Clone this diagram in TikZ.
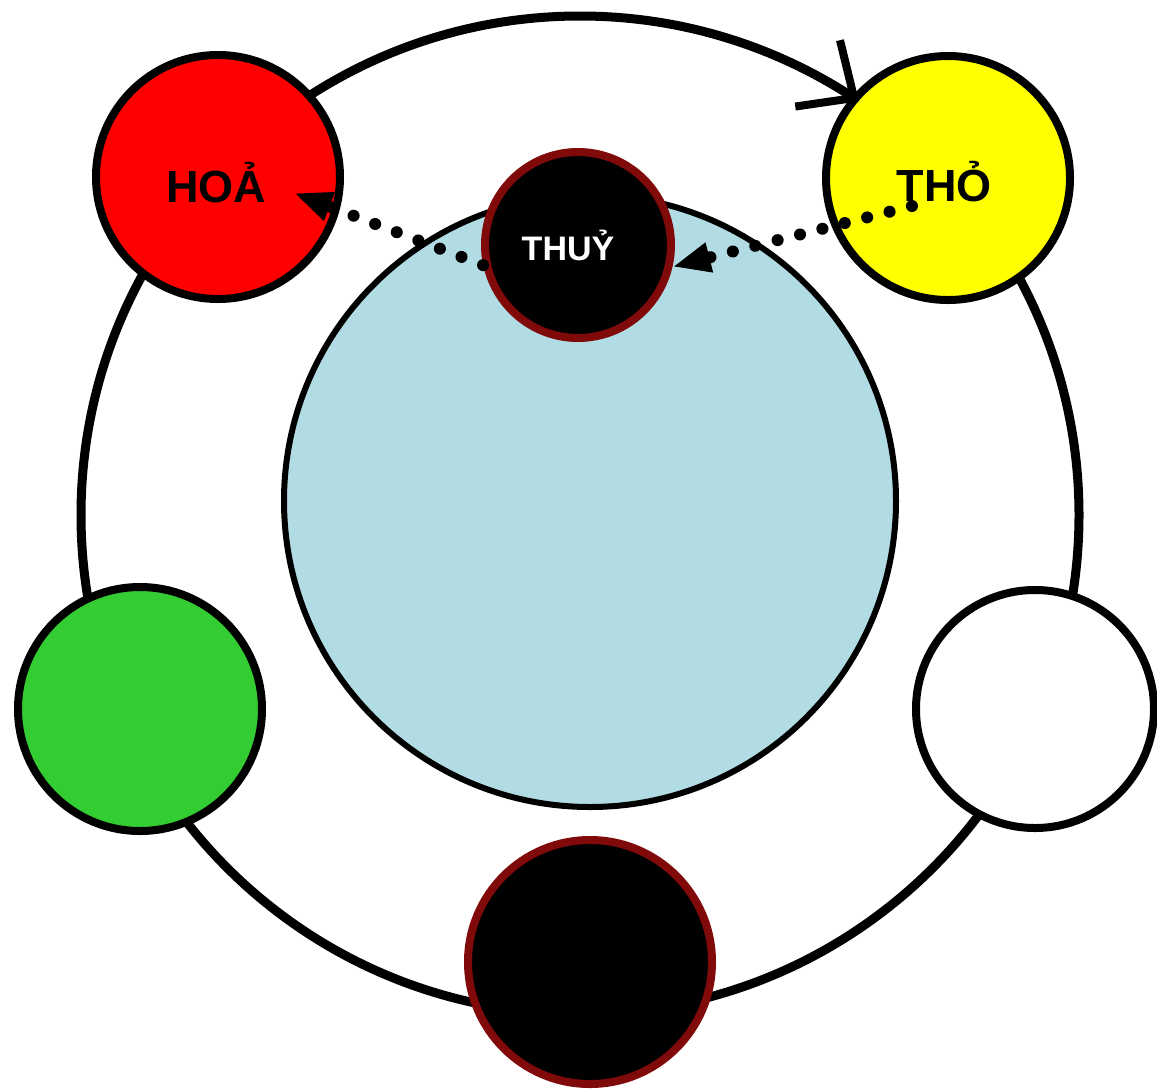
\documentclass[tikz,border=0pt]{standalone}
\usepackage{fontspec}
\setmainfont{Liberation Sans}
\usetikzlibrary{arrows.meta,calc}
\definecolor{fireRed}{RGB}{255,0,0}
\definecolor{earthYellow}{RGB}{255,255,0}
\definecolor{woodGreen}{RGB}{51,204,51}
\definecolor{poolBlue}{RGB}{178,220,228}
\definecolor{rimRed}{RGB}{128,10,10}
\tikzset{
  elem/.style={circle,draw=black,line width=8pt,minimum size=244pt,inner sep=0pt},
  darkelem/.style={elem,fill=black,draw=rimRed},
  dotarrow/.style={line width=12pt,line cap=round,dash pattern=on 0.1pt off 23pt,
    -{Triangle[length=38pt,width=28pt]}},
  lbl/.style={font=\fontsize{45}{48}\selectfont\bfseries,text=black}
}
\begin{document}
\begin{tikzpicture}[x=1pt,y=-1pt]
\useasboundingbox (0,0) rectangle (1157,1088);
% outer ring
\node[circle,draw=black,line width=9pt,minimum size=998pt,inner sep=0pt] (ring) at (580,515) {};
% inner pool
\node[circle,draw=black,line width=6pt,fill=poolBlue,minimum size=612pt,inner sep=0pt] (pool) at (590,501) {};
% elements
\node[elem,fill=fireRed] (hoa) at (218,177) {};
\node[lbl] at (216,183) {HOẢ};
\node[elem,fill=earthYellow] (tho) at (948,178) {};
\node[lbl] at (944,182) {THỎ};
\node[elem,fill=woodGreen] (moc) at (140,709) {};
\node[elem,fill=white,minimum size=238pt] (kim) at (1035,709) {};
\node[darkelem] (bottom) at (590,962) {};
\node[darkelem,minimum size=186pt] (thuy) at (578,245) {};
\node[font=\fontsize{34}{38}\selectfont\bfseries,text=white] at (568,245) {THUỶ};
% arrow on the ring
\draw[line width=8pt,-{Straight Barb[length=44pt,width=80pt]}]
  ($(ring.center)+(-75:499)$) arc (-75:-56:499);
% dotted arrows
\coordinate (hoaTip) at (294,193);
\coordinate (thoStart) at (912,206);
\draw[dotarrow] (thuy.192) -- (hoaTip);
\draw[dotarrow] (thoStart) -- (thuy.-13);
\end{tikzpicture}
\end{document}
